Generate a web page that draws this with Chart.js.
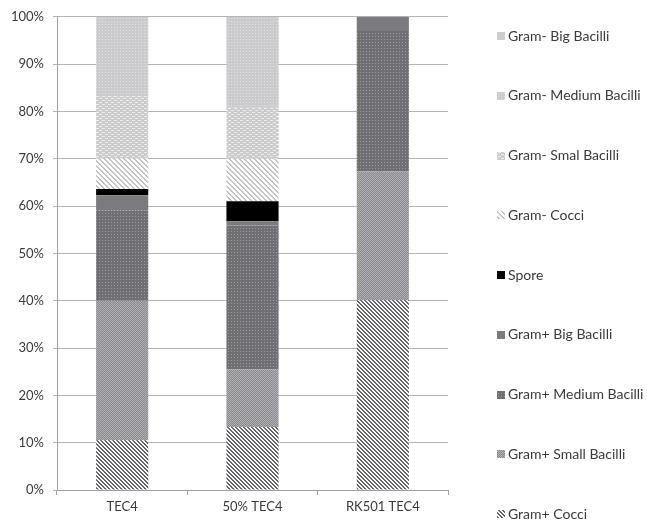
<!DOCTYPE html>
<html>
<head>
<meta charset="utf-8">
<script src="https://cdn.jsdelivr.net/npm/chart.js@4.4.1/dist/chart.umd.min.js"></script>
<style>
  html, body { margin: 0; padding: 0; background: #fff; }
  #wrap { position: relative; width: 647px; height: 520px; }
</style>
</head>
<body>
<div id="wrap"><canvas id="chart" width="647" height="520"></canvas></div>
<script>
// 100% stacked bars - bacterial morphology share per sample
const categories = ['TEC4', '50% TEC4', 'RK501 TEC4'];
const seriesNames = [
  'Gram+ Cocci', 'Gram+ Small Bacilli', 'Gram+ Medium Bacilli', 'Gram+ Big Bacilli',
  'Spore', 'Gram- Cocci', 'Gram- Smal Bacilli', 'Gram- Medium Bacilli', 'Gram- Big Bacilli'
];
const gramPosCocci = [10.5, 13.3, 40.1];
const gramPosSmall = [29.5, 12.2, 27.2];
const gramPosMedium = [19.1, 30.4, 29.7];
const gramPosBig = [3.2, 0.9, 3.0];
const spore = [1.3, 4.2, 0];
const gramNegCocci = [6.5, 9.0, 0];
const gramNegSmall = [13.1, 10.8, 0];
const gramNegMedium = [16.8, 19.2, 0];
const gramNegBig = [0, 0, 0];
const yTicks = [0, 10, 20, 30, 40, 50, 60, 70, 80, 90, 100];

const TEXT = '#3a3a3a';
const FONT = 'Lato, "Open Sans", sans-serif';

// small canvas tiles -> CanvasPattern
function makePattern(w, h, bg, paint) {
  const c = document.createElement('canvas');
  c.width = w; c.height = h;
  const g = c.getContext('2d');
  g.fillStyle = bg;
  g.fillRect(0, 0, w, h);
  paint(g);
  return g.createPattern(c, 'repeat');
}
function diagonal(period, thick, bg, fg) {
  return makePattern(period, period, bg, g => {
    g.fillStyle = fg;
    for (let y = 0; y < period; y++)
      for (let x = 0; x < period; x++)
        if (((x - y) % period + period) % period < thick) g.fillRect(x, y, 1, 1);
  });
}
function dots(step, bg, fg) {
  return makePattern(step, step, bg, g => { g.fillStyle = fg; g.fillRect(0, 0, 1, 1); });
}
function checker(a, b) {
  return makePattern(2, 2, a, g => { g.fillStyle = b; g.fillRect(0, 0, 1, 1); g.fillRect(1, 1, 1, 1); });
}
function dashes(bg, fg) {
  return makePattern(6, 4, bg, g => { g.fillStyle = fg; g.fillRect(0, 0, 3, 1); g.fillRect(3, 2, 3, 1); });
}

const fills = [
  diagonal(4, 2, '#ffffff', '#646468'),
  checker('#8a8a8e', '#b0b0b4'),
  dots(3, '#6f6f74', '#9a9a9f'),
  '#7a7a7f',
  '#000000',
  diagonal(5, 2, '#ffffff', '#c2c2c4'),
  dashes('#cbcbcd', '#ececec'),
  dots(3, '#cbcbcd', '#e2e2e4'),
  '#cdcdcf'
];
const seriesData = [gramPosCocci, gramPosSmall, gramPosMedium, gramPosBig, spore,
  gramNegCocci, gramNegSmall, gramNegMedium, gramNegBig];

const datasets = seriesNames.map((name, i) => ({
  label: name,
  data: seriesData[i],
  backgroundColor: fills[i],
  borderWidth: 0,
  categoryPercentage: 1,
  barPercentage: 0.4
}));

// legend drawn by hand, top item = last dataset
const sideLegend = {
  id: 'sideLegend',
  afterDraw(chart) {
    const ctx = chart.ctx;
    const n = chart.data.datasets.length;
    ctx.save();
    ctx.font = '14px ' + FONT;
    ctx.textBaseline = 'middle';
    for (let k = 0; k < n; k++) {
      const ds = chart.data.datasets[n - 1 - k];
      const y = 36 + k * 59.75;
      ctx.fillStyle = ds.backgroundColor;
      ctx.fillRect(497, Math.round(y - 4), 8, 8);
      ctx.fillStyle = TEXT;
      ctx.fillText(ds.label, 508, y);
    }
    ctx.restore();
  }
};

new Chart(document.getElementById('chart'), {
  type: 'bar',
  data: { labels: categories, datasets },
  plugins: [sideLegend],
  options: {
    responsive: false,
    animation: false,
    layout: { padding: { top: 16, right: 199, left: 0, bottom: 0 } },
    plugins: { legend: { display: false }, tooltip: { enabled: false } },
    scales: {
      x: {
        stacked: true,
        afterFit: s => { s.height = 30; },
        grid: { display: true, drawOnChartArea: false, offset: true, tickLength: 5, color: '#a0a0a0' },
        border: { color: '#a0a0a0' },
        ticks: { color: TEXT, font: { family: FONT, size: 13 }, padding: 4 }
      },
      y: {
        stacked: true,
        min: 0,
        max: 100,
        afterFit: s => { s.width = 57; },
        afterBuildTicks: s => { s.ticks = yTicks.map(v => ({ value: v })); },
        grid: { color: '#b4b4b4', tickLength: 4 },
        border: { color: '#a0a0a0' },
        ticks: { color: TEXT, font: { family: FONT, size: 13 }, padding: 9, callback: v => v + '%' }
      }
    }
  }
});
</script>
</body>
</html>
